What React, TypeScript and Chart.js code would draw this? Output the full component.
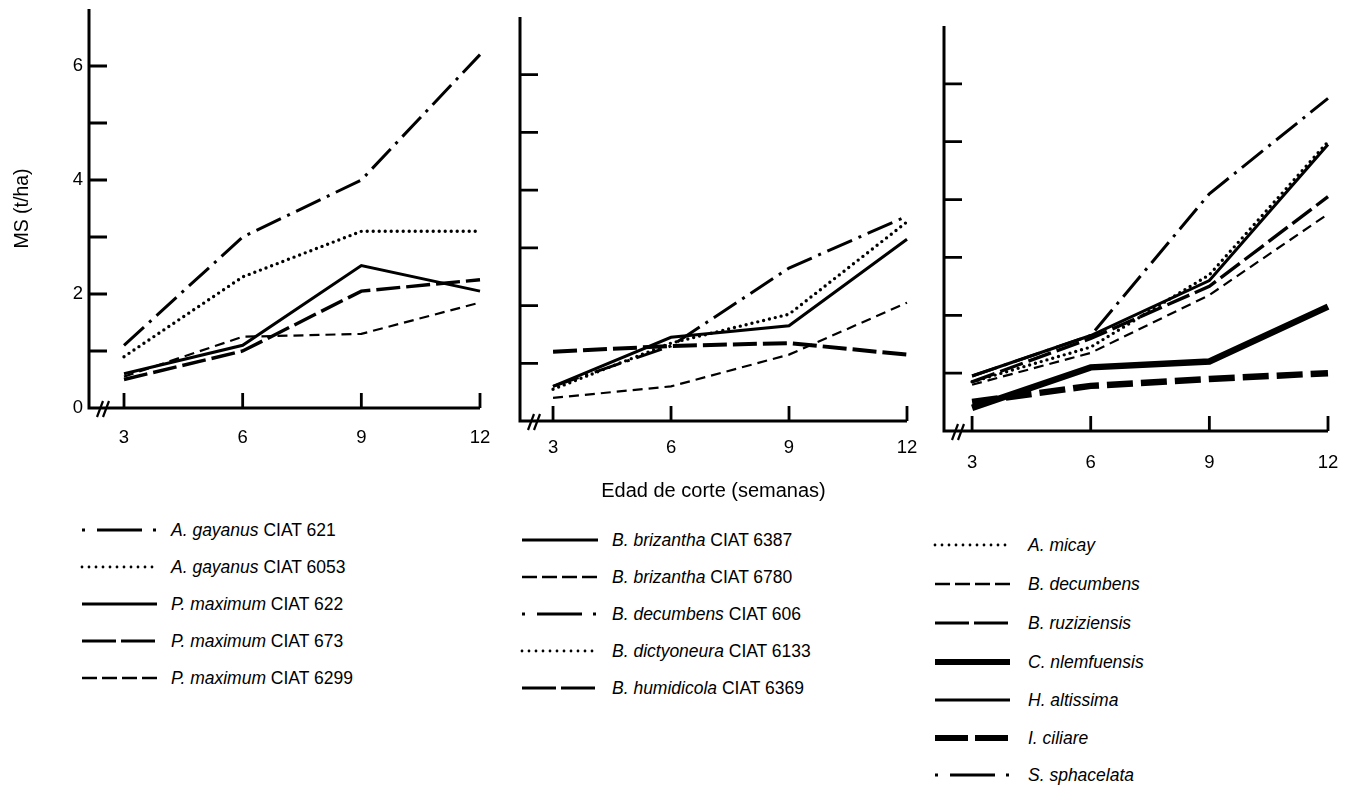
import React, { useEffect, useRef } from 'react';
import { Chart, registerables } from 'chart.js';

Chart.register(...registerables);

const FONT = '"Liberation Sans", Arial, Helvetica, sans-serif';
const INK = '#000000';

// ---------- data ----------
const weeks = [3, 6, 9, 12];
const xTickValues = [3, 6, 9, 12];
const yLabelValues = [0, 2, 4, 6];

// panel 1
const agayanus621 = [1.1, 3.0, 4.0, 6.2];
const agayanus6053 = [0.9, 2.3, 3.1, 3.1];
const pmaximum622 = [0.6, 1.1, 2.5, 2.05];
const pmaximum673 = [0.5, 1.0, 2.05, 2.25];
const pmaximum6299 = [0.55, 1.25, 1.3, 1.85];

// panel 2
const bbrizantha6387 = [0.6, 1.45, 1.65, 3.15];
const bbrizantha6780 = [0.4, 0.6, 1.15, 2.05];
const bdecumbens606 = [0.6, 1.3, 2.65, 3.55];
const bdictyoneura6133 = [0.55, 1.35, 1.85, 3.45];
const bhumidicola6369 = [1.2, 1.3, 1.35, 1.15];

// panel 3
const amicay = [0.85, 1.45, 2.7, 5.0];
const bdecumbens = [0.8, 1.35, 2.35, 3.75];
const bruziziensis = [0.85, 1.6, 2.5, 4.05];
const cnlemfuensis = [0.4, 1.1, 1.2, 2.15];
const haltissima = [0.95, 1.65, 2.6, 4.95];
const iciliare = [0.5, 0.78, 0.9, 1.0];
const ssphacelata = [0.95, 1.65, 4.1, 5.75];

const yTitleText = 'MS (t/ha)';
const xTitleText = 'Edad de corte (semanas)';

// ---------- styles ----------
type StyleKey = 'dashDot' | 'dotted' | 'solid' | 'longDash' | 'shortDash' | 'heavyLongDash' | 'thickSolid' | 'thickDash';

const STYLES: Record<StyleKey, { width: number; dash: number[]; cap: CanvasLineCap; svgDash: string; svgWidth: number }> = {
  dashDot: { width: 3, dash: [27, 7, 3, 7], cap: 'butt', svgDash: '3 12 45 11 3', svgWidth: 2.8 },
  dotted: { width: 3.4, dash: [0, 6], cap: 'round', svgDash: '0 7', svgWidth: 2.8 },
  solid: { width: 3, dash: [], cap: 'butt', svgDash: '', svgWidth: 2.8 },
  longDash: { width: 3.4, dash: [24, 6], cap: 'butt', svgDash: '34 5', svgWidth: 2.8 },
  shortDash: { width: 2.2, dash: [10, 6], cap: 'butt', svgDash: '15 5', svgWidth: 2.5 },
  heavyLongDash: { width: 4, dash: [24, 6], cap: 'butt', svgDash: '34 5', svgWidth: 2.8 },
  thickSolid: { width: 6.5, dash: [], cap: 'butt', svgDash: '', svgWidth: 6 },
  thickDash: { width: 6.5, dash: [26, 8], cap: 'butt', svgDash: '33 7', svgWidth: 6 },
};

type Series = { species: string; code: string; values: number[]; style: StyleKey };

const panel1Series: Series[] = [
  { species: 'A. gayanus', code: 'CIAT 621', values: agayanus621, style: 'dashDot' },
  { species: 'A. gayanus', code: 'CIAT 6053', values: agayanus6053, style: 'dotted' },
  { species: 'P. maximum', code: 'CIAT 622', values: pmaximum622, style: 'solid' },
  { species: 'P. maximum', code: 'CIAT 673', values: pmaximum673, style: 'longDash' },
  { species: 'P. maximum', code: 'CIAT 6299', values: pmaximum6299, style: 'shortDash' },
];

const panel2Series: Series[] = [
  { species: 'B. brizantha', code: 'CIAT 6387', values: bbrizantha6387, style: 'solid' },
  { species: 'B. brizantha', code: 'CIAT 6780', values: bbrizantha6780, style: 'shortDash' },
  { species: 'B. decumbens', code: 'CIAT 606', values: bdecumbens606, style: 'dashDot' },
  { species: 'B. dictyoneura', code: 'CIAT 6133', values: bdictyoneura6133, style: 'dotted' },
  { species: 'B. humidicola', code: 'CIAT 6369', values: bhumidicola6369, style: 'heavyLongDash' },
];

const panel3Series: Series[] = [
  { species: 'A. micay', code: '', values: amicay, style: 'dotted' },
  { species: 'B. decumbens', code: '', values: bdecumbens, style: 'shortDash' },
  { species: 'B. ruziziensis', code: '', values: bruziziensis, style: 'longDash' },
  { species: 'C. nlemfuensis', code: '', values: cnlemfuensis, style: 'thickSolid' },
  { species: 'H. altissima', code: '', values: haltissima, style: 'solid' },
  { species: 'I. ciliare', code: '', values: iciliare, style: 'thickDash' },
  { species: 'S. sphacelata', code: '', values: ssphacelata, style: 'dashDot' },
];

// ---------- geometry ----------
const PAD_T = 20;
const PAD_R = 40;

type Geom = {
  areaLeft: number; areaRight: number; areaTop: number; areaBottom: number;
  xMin: number; yW: number; xH: number; xLabelPad: number;
};

const geom1: Geom = { areaLeft: 89, areaRight: 480, areaTop: 9, areaBottom: 408, xMin: 2.115, yW: 82, xH: 50, xLabelPad: 19 };
const geom2: Geom = { areaLeft: 520, areaRight: 907, areaTop: 16.5, areaBottom: 420, xMin: 2.16, yW: 60, xH: 86, xLabelPad: 16 };
const geom3: Geom = { areaLeft: 944, areaRight: 1328, areaTop: 26, areaBottom: 431, xMin: 2.29, yW: 60, xH: 50, xLabelPad: 21 };

const axisPlugin = {
  id: 'handDrawnAxes',
  afterDatasetsDraw(chart: any) {
    const { ctx, chartArea } = chart;
    const { left, right, top, bottom } = chartArea;
    const x = chart.scales.x;
    const y = chart.scales.y;
    ctx.save();
    ctx.strokeStyle = INK;
    ctx.lineCap = 'butt';
    ctx.setLineDash([]);
    ctx.lineWidth = 3;
    ctx.beginPath();
    ctx.moveTo(left, top);
    ctx.lineTo(left, bottom);
    ctx.lineTo(right, bottom);
    ctx.stroke();
    ctx.lineWidth = 2.8;
    ctx.beginPath();
    y.ticks.forEach((t: any) => {
      if (t.value <= 0 || t.value >= y.max) return;
      const py = y.getPixelForValue(t.value);
      ctx.moveTo(left, py);
      ctx.lineTo(left + 18, py);
    });
    x.ticks.forEach((t: any) => {
      const px = x.getPixelForValue(t.value);
      ctx.moveTo(px, bottom);
      ctx.lineTo(px, bottom - 15);
    });
    ctx.stroke();
    // axis break marks
    ctx.lineWidth = 2.2;
    ctx.beginPath();
    ctx.moveTo(left + 8, bottom + 9);
    ctx.lineTo(left + 14, bottom - 7);
    ctx.moveTo(left + 14, bottom + 9);
    ctx.lineTo(left + 20, bottom - 7);
    ctx.stroke();
    ctx.restore();
  },
};

function PanelChart({ geom, series, showYLabels, yTitle, xTitle }: { geom: Geom; series: Series[]; showYLabels: boolean; yTitle?: string; xTitle?: string }) {
  const ref = useRef<HTMLCanvasElement>(null);
  const cLeft = geom.areaLeft - geom.yW;
  const cTop = geom.areaTop - PAD_T;
  const cWidth = Math.round(geom.areaRight + PAD_R - cLeft);
  const cHeight = Math.round(geom.areaBottom + geom.xH - cTop);

  useEffect(() => {
    if (!ref.current) return;
    const chart = new Chart(ref.current, {
      type: 'line',
      data: {
        datasets: series.map((s) => {
          const st = STYLES[s.style];
          return {
            label: (s.species + ' ' + s.code).trim(),
            data: weeks.map((w, i) => ({ x: w, y: s.values[i] })),
            borderColor: INK,
            backgroundColor: INK,
            borderWidth: st.width,
            borderDash: st.dash,
            borderCapStyle: st.cap,
            borderJoinStyle: 'miter',
            pointRadius: 0,
            tension: 0,
            fill: false,
            clip: false,
          } as any;
        }),
      },
      options: {
        animation: false,
        responsive: false,
        events: [],
        layout: { padding: { top: PAD_T, right: PAD_R, left: 0, bottom: 0 } },
        plugins: { legend: { display: false }, tooltip: { enabled: false } },
        scales: {
          x: {
            type: 'linear',
            min: geom.xMin,
            max: 12,
            grid: { display: false, drawTicks: false },
            border: { display: false },
            afterBuildTicks: (s: any) => {
              s.ticks = xTickValues.map((v) => ({ value: v }));
            },
            afterFit: (s: any) => {
              s.height = geom.xH;
            },
            ticks: {
              padding: geom.xLabelPad,
              font: { size: 18.5, family: FONT },
              color: INK,
              maxRotation: 0,
              autoSkip: false,
            },
            title: xTitle
              ? { display: true, text: xTitle, font: { size: 20, family: FONT }, color: INK, padding: { top: 4, bottom: 4 } }
              : { display: false },
          },
          y: {
            type: 'linear',
            min: 0,
            max: 7,
            grid: { display: false, drawTicks: false },
            border: { display: false },
            afterFit: (s: any) => {
              s.width = geom.yW;
            },
            ticks: {
              stepSize: 1,
              padding: 6,
              font: { size: 18.5, family: FONT },
              color: INK,
              callback: (v: any) => (showYLabels && yLabelValues.includes(Number(v)) ? String(v) : ''),
            },
            title: yTitle
              ? { display: true, text: yTitle, font: { size: 19.5, family: FONT }, color: INK, padding: { top: 4, bottom: 4 } }
              : { display: false },
          },
        },
      } as any,
      plugins: [axisPlugin],
    });
    return () => chart.destroy();
  }, []);

  return (
    <canvas
      ref={ref}
      width={cWidth}
      height={cHeight}
      style={{ position: 'absolute', left: cLeft, top: cTop, width: cWidth, height: cHeight }}
    />
  );
}

function Legend({ series, sampleX, sampleW, textX, rowYs }: { series: Series[]; sampleX: number; sampleW: number; textX: number; rowYs: number[] }) {
  return (
    <>
      {series.map((s, i) => {
        const st = STYLES[s.style];
        const cy = rowYs[i];
        return (
          <React.Fragment key={i}>
            <svg
              width={sampleW + 4}
              height={12}
              style={{ position: 'absolute', left: sampleX - 2, top: cy - 6 }}
            >
              <line
                x1={2}
                y1={6}
                x2={sampleW + 2}
                y2={6}
                stroke={INK}
                strokeWidth={st.svgWidth}
                strokeDasharray={st.svgDash || undefined}
                strokeLinecap={st.cap === 'round' ? 'round' : 'butt'}
              />
            </svg>
            <div
              style={{
                position: 'absolute',
                left: textX,
                top: cy - 11,
                height: 22,
                lineHeight: '22px',
                fontSize: 17.5,
                color: INK,
                whiteSpace: 'pre',
              }}
            >
              <i>{s.species}</i>
              {s.code ? ' ' + s.code : ''}
            </div>
          </React.Fragment>
        );
      })}
    </>
  );
}

export default function App() {
  return (
    <div
      style={{
        position: 'absolute',
        left: 0,
        top: 0,
        width: 1346,
        height: 786,
        overflow: 'hidden',
        background: '#ffffff',
        fontFamily: FONT,
      }}
    >
      <PanelChart geom={geom1} series={panel1Series} showYLabels={true} yTitle={yTitleText} />
      <PanelChart geom={geom2} series={panel2Series} showYLabels={false} xTitle={xTitleText} />
      <PanelChart geom={geom3} series={panel3Series} showYLabels={false} />
      <Legend series={panel1Series} sampleX={82} sampleW={75} textX={171} rowYs={[530, 567, 604, 641, 678]} />
      <Legend series={panel2Series} sampleX={522} sampleW={76} textX={612} rowYs={[540, 577, 614, 651, 688]} />
      <Legend series={panel3Series} sampleX={935} sampleW={75} textX={1028} rowYs={[545, 584, 623, 662, 700, 738, 775]} />
    </div>
  );
}
